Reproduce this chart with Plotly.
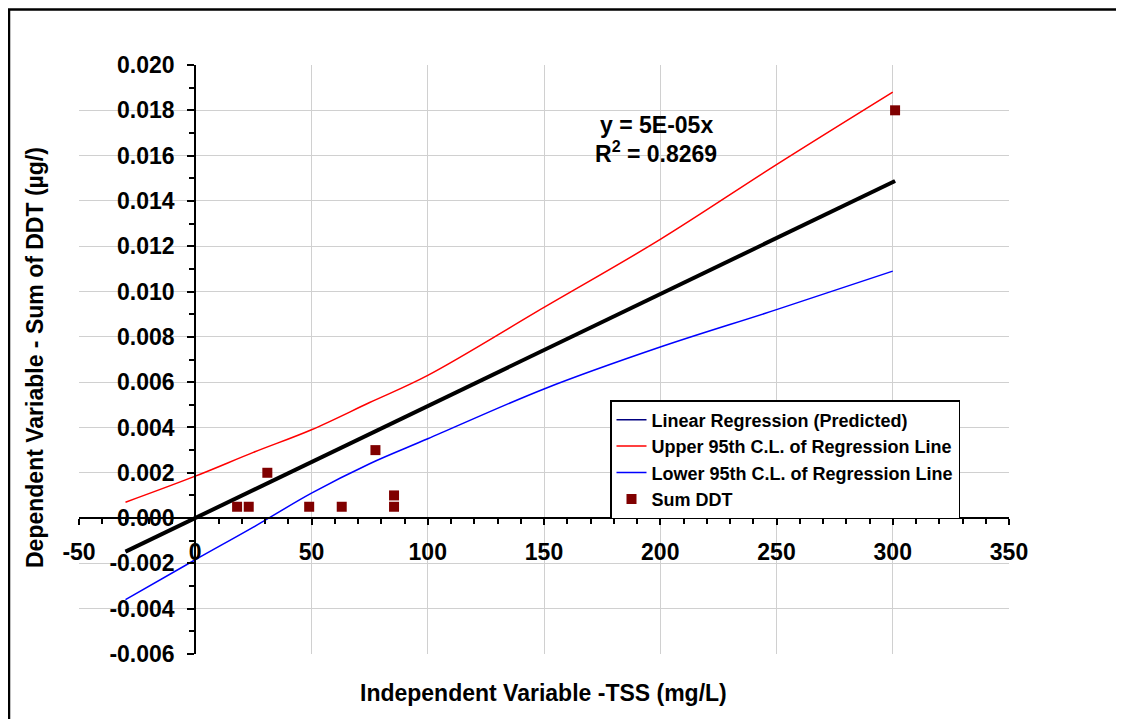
import plotly.graph_objects as go

# ---- data ----
tss = [18, 23, 31, 49, 63, 77.5, 85.5, 85.5, 301]
sum_ddt = [0.0005, 0.0005, 0.002, 0.0005, 0.0005, 0.003, 0.001, 0.0005, 0.018]

reg_x = [-30, 301]
reg_y = [-0.00148, 0.01488]

cl_x = [-30, 0, 25, 50, 75, 100, 150, 200, 250, 300]
upper_y = [0.0007, 0.00185, 0.0029, 0.0039, 0.0051, 0.0063, 0.0093, 0.0123, 0.0156, 0.0188]
lower_y = [-0.0036, -0.00184, -0.0004, 0.0011, 0.0024, 0.0035, 0.0057, 0.00755, 0.0092, 0.0109]

x_ticks = [-50, 0, 50, 100, 150, 200, 250, 300, 350]
x_ticktext = ["-50", "0", "50", "100", "150", "200", "250", "300", "350"]
y_ticks = [-0.006, -0.004, -0.002, 0.0, 0.002, 0.004, 0.006, 0.008, 0.010,
           0.012, 0.014, 0.016, 0.018, 0.020]
y_ticktext = ["-0.006", "-0.004", "-0.002", "0.000", "0.002", "0.004", "0.006",
              "0.008", "0.010", "0.012", "0.014", "0.016", "0.018", "0.020"]

x_range = [-50, 350]
y_range = [-0.006, 0.020]

FONT = "Arial, Liberation Sans, sans-serif"

fig = go.Figure()
fig.add_trace(go.Scatter(x=reg_x, y=reg_y, mode="lines", name="Linear Regression (Predicted)",
                         line=dict(color="#000080", width=1.5)))
fig.add_trace(go.Scatter(x=cl_x, y=upper_y, mode="lines", name="Upper 95th C.L. of Regression Line",
                         line=dict(color="#ff0000", width=1.5, shape="spline")))
fig.add_trace(go.Scatter(x=cl_x, y=lower_y, mode="lines", name="Lower 95th C.L. of Regression Line",
                         line=dict(color="#0000ff", width=1.5, shape="spline")))
fig.add_trace(go.Scatter(x=reg_x, y=reg_y, mode="lines", showlegend=False,
                         line=dict(color="#000000", width=4)))
fig.add_trace(go.Scatter(x=tss, y=sum_ddt, mode="markers", name="Sum DDT",
                         marker=dict(symbol="square", size=10, color="#800000",
                                     line=dict(width=0))))

OFF = 8  # page body margin
W, H = 1124, 719
L = 79 - OFF
T = 65 - OFF
R = W - (1009 - OFF)
B = H - (654 - OFF)
pw, ph = W - L - R, H - T - B


def px_x(p):
    """window pixel x -> paper fraction"""
    return (p - OFF - L) / pw


def px_y(p):
    """window pixel y -> paper fraction"""
    return (H - B - (p - OFF)) / ph


fig.update_layout(
    width=W, height=H,
    margin=dict(l=L, r=R, t=T, b=B),
    paper_bgcolor="white", plot_bgcolor="white",
    font=dict(family=FONT, color="black"),
    xaxis=dict(
        range=x_range, tickmode="array", tickvals=x_ticks, ticktext=x_ticktext,
        showgrid=True, gridcolor="#d0d0d0", gridwidth=1, zeroline=False,
        showline=True, linecolor="black", linewidth=2,
        anchor="free", position=(0 - y_range[0]) / (y_range[1] - y_range[0]),
        ticks="outside", ticklen=6, tickwidth=1.5, tickcolor="black",
        ticklabelstandoff=7,
        tickfont=dict(family=FONT, size=23, weight="bold", color="black"),
        minor=dict(tickmode="linear", tick0=0, dtick=10, ticks="outside",
                   ticklen=5, tickwidth=1.5, tickcolor="black", showgrid=False),
    ),
    yaxis=dict(
        range=y_range, tickmode="array", tickvals=y_ticks, ticktext=y_ticktext,
        showgrid=True, gridcolor="#d0d0d0", gridwidth=1, zeroline=False,
        showline=True, linecolor="black", linewidth=2,
        anchor="free", position=(0 - x_range[0]) / (x_range[1] - x_range[0]),
        ticks="outside", ticklen=7, tickwidth=1.5, tickcolor="black",
        ticklabelstandoff=8,
        tickfont=dict(family=FONT, size=23, weight="bold", color="black"),
        minor=dict(tickmode="linear", tick0=0, dtick=0.001, ticks="outside",
                   ticklen=5, tickwidth=1.5, tickcolor="black", showgrid=False),
    ),
    legend=dict(
        x=px_x(610), y=px_y(400), xanchor="left", yanchor="top",
        bgcolor="white", bordercolor="black", borderwidth=1.5,
        font=dict(family=FONT, size=18, weight="bold", color="black"),
        tracegroupgap=0, itemwidth=30,
    ),
    showlegend=True,
)

ann_font = dict(family=FONT, size=23, weight="bold", color="black")
fig.add_annotation(text="y = 5E-05x", xref="paper", yref="paper",
                   x=px_x(656), y=px_y(125), xanchor="center", yanchor="middle",
                   showarrow=False, font=ann_font)
fig.add_annotation(text="R<sup>2</sup> = 0.8269", xref="paper", yref="paper",
                   x=px_x(656), y=px_y(152), xanchor="center", yanchor="middle",
                   showarrow=False, font=ann_font)
fig.add_annotation(text="Independent Variable -TSS (mg/L)", xref="paper", yref="paper",
                   x=px_x(543), y=px_y(693), xanchor="center", yanchor="middle",
                   showarrow=False, font=ann_font)
fig.add_annotation(text="Dependent Variable - Sum of DDT (µg/)", xref="paper", yref="paper",
                   x=px_x(35), y=px_y(358), xanchor="center", yanchor="middle",
                   showarrow=False, textangle=-90, font=ann_font)

# chart-area border (extends beyond the visible window on right/bottom)
fig.add_shape(type="rect", xref="paper", yref="paper",
              x0=px_x(9), x1=px_x(1150), y0=px_y(760), y1=px_y(9.5),
              line=dict(color="black", width=2.5), fillcolor="rgba(0,0,0,0)", layer="below")

fig.write_html("out.html")
